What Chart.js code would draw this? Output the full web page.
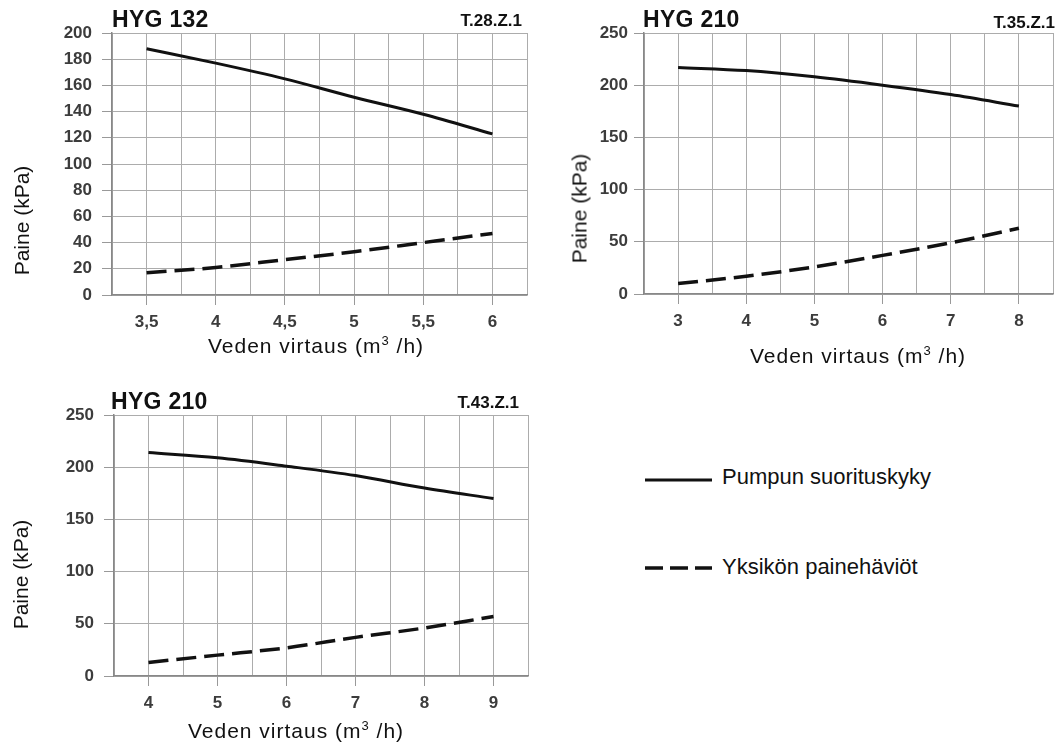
<!DOCTYPE html>
<html>
<head>
<meta charset="utf-8">
<script src="https://cdn.jsdelivr.net/npm/chart.js@4/dist/chart.umd.min.js"></script>
<style>
  body { margin: 0; background: #fff; }
  #page { position: relative; width: 1060px; height: 746px; overflow: hidden;
          font-family: "Liberation Sans", Arial, sans-serif; color: #111; }
  canvas { position: absolute; }
  .t { position: absolute; line-height: 1; white-space: nowrap; }
  .head { font-size: 23px; font-weight: bold; letter-spacing: 0.3px; }
  .code { font-size: 17px; font-weight: bold; }
  .xt { font-size: 21px; letter-spacing: 1px; width: 400px; text-align: center; }
  .yt { font-size: 21px; width: 200px; text-align: center; transform: rotate(-90deg); }
  .leg { font-size: 22px; }
  sup { font-size: 13px; vertical-align: 8px; line-height: 0; }
</style>
</head>
<body>
<div id="page">
  <canvas id="c1" width="540" height="340" style="left:0;top:0"></canvas>
  <canvas id="c2" width="500" height="380" style="left:560px;top:0"></canvas>
  <canvas id="c3" width="540" height="376" style="left:0;top:370px"></canvas>

  <div class="t head" style="left:112px;top:8px">HYG 132</div>
  <div class="t code" style="right:538px;top:12px">T.28.Z.1</div>
  <div class="t head" style="left:643px;top:8px">HYG 210</div>
  <div class="t code" style="right:5px;top:14px">T.35.Z.1</div>
  <div class="t head" style="left:111px;top:390px">HYG 210</div>
  <div class="t code" style="right:541px;top:394px">T.43.Z.1</div>

  <div class="t xt" style="left:116px;top:335px">Veden virtaus (m<sup>3</sup> /h)</div>
  <div class="t xt" style="left:658px;top:345px">Veden virtaus (m<sup>3</sup> /h)</div>
  <div class="t xt" style="left:96px;top:720px">Veden virtaus (m<sup>3</sup> /h)</div>

  <div class="t yt" style="left:-79px;top:210px">Paine (kPa)</div>
  <div class="t yt" style="left:479px;top:198px">Paine (kPa)</div>
  <div class="t yt" style="left:-80px;top:564px">Paine (kPa)</div>

  <svg style="position:absolute;left:640px;top:470px" width="80" height="110">
    <line x1="5" y1="10" x2="72" y2="10" stroke="#111" stroke-width="3"/>
    <line x1="5" y1="98" x2="72" y2="98" stroke="#111" stroke-width="3.5" stroke-dasharray="18 7"/>
  </svg>
  <div class="t leg" style="left:722px;top:466px">Pumpun suorituskyky</div>
  <div class="t leg" style="left:722px;top:556px">Yksikön painehäviöt</div>
</div>

<script>
// HYG 132 (T.28.Z.1)
var flow1 = [3.5, 4, 4.5, 5, 5.5, 6];
var pump1 = [188, 177, 165, 151, 138, 123];
var loss1 = [17, 21, 27, 33, 40, 47];
var xTicks1 = [3.5, 4, 4.5, 5, 5.5, 6];

// HYG 210 (T.35.Z.1)
var flow2 = [3, 4, 5, 6, 7, 8];
var pump2 = [217, 214, 208, 200, 191, 180];
var loss2 = [10, 17, 26, 37, 49, 63];
var xTicks2 = [3, 4, 5, 6, 7, 8];

// HYG 210 (T.43.Z.1)
var flow3 = [4, 5, 6, 7, 8, 9];
var pump3 = [214, 209, 201, 192, 180, 170];
var loss3 = [13, 20, 27, 37, 46, 57];
var xTicks3 = [4, 5, 6, 7, 8, 9];

function points(xs, ys) {
    return xs.map(function(x, i) { return { x: x, y: ys[i] }; });
}

var tickFont = { family: "'Liberation Sans', Arial, sans-serif", size: 17, weight: "bold" };

function pumpChart(id, flow, pump, loss, xTicks, ax) {
    var ctx = document.getElementById(id).getContext("2d");
    return new Chart(ctx, {
        type: "line",
        data: {
            datasets: [
                {
                    label: "Pumpun suorituskyky",
                    data: points(flow, pump),
                    borderColor: "#111",
                    borderWidth: 3
                },
                {
                    label: "Yksikön painehäviöt",
                    data: points(flow, loss),
                    borderColor: "#111",
                    borderWidth: 3.5,
                    borderDash: [20, 8]
                }
            ]
        },
        options: {
            responsive: false,
            devicePixelRatio: 1,
            animation: false,
            elements: {
                point: { radius: 0 },
                line: { tension: 0.4, cubicInterpolationMode: "monotone", fill: false }
            },
            layout: { padding: { top: ax.top, right: ax.right, left: 0, bottom: 0 } },
            plugins: { legend: { display: false }, tooltip: { enabled: false } },
            scales: {
                x: {
                    type: "linear",
                    min: ax.xMin,
                    max: ax.xMax,
                    afterFit: function(s) { s.height = ax.xHeight; },
                    ticks: {
                        stepSize: ax.xStep,
                        autoSkip: false,
                        maxRotation: 0,
                        padding: 7,
                        font: tickFont,
                        color: "#3c3c3c",
                        callback: function(v) {
                            return xTicks.indexOf(v) >= 0 ? String(v).replace(".", ",") : "";
                        }
                    },
                    grid: {
                        color: "#acacac",
                        lineWidth: 1,
                        tickLength: 10,
                        tickColor: function(c) {
                            return c.tick && xTicks.indexOf(c.tick.value) >= 0 ? "#999" : "rgba(0,0,0,0)";
                        }
                    },
                    border: { color: "#888", width: 1.5 }
                },
                y: {
                    min: 0,
                    max: ax.yMax,
                    afterFit: function(s) { s.width = ax.yWidth; },
                    ticks: {
                        stepSize: ax.yStep,
                        padding: ax.yPad,
                        font: tickFont,
                        color: "#3c3c3c"
                    },
                    grid: { color: "#acacac", lineWidth: 1, tickLength: 10, tickColor: "#999" },
                    border: { color: "#888", width: 1.5 }
                }
            }
        }
    });
}

pumpChart("c1", flow1, pump1, loss1, xTicks1,
    { xMin: 3.25, xMax: 6.25, xStep: 0.25, yMax: 200, yStep: 20,
      top: 33, right: 13, yWidth: 112, xHeight: 45, yPad: 10 });
pumpChart("c2", flow2, pump2, loss2, xTicks2,
    { xMin: 2.5, xMax: 8.5, xStep: 0.5, yMax: 250, yStep: 50,
      top: 33, right: 1, yWidth: 84, xHeight: 86, yPad: 6 });
pumpChart("c3", flow3, pump3, loss3, xTicks3,
    { xMin: 3.5, xMax: 9.5, xStep: 0.5, yMax: 250, yStep: 50,
      top: 45, right: 12, yWidth: 114, xHeight: 70, yPad: 10 });
</script>
</body>
</html>
